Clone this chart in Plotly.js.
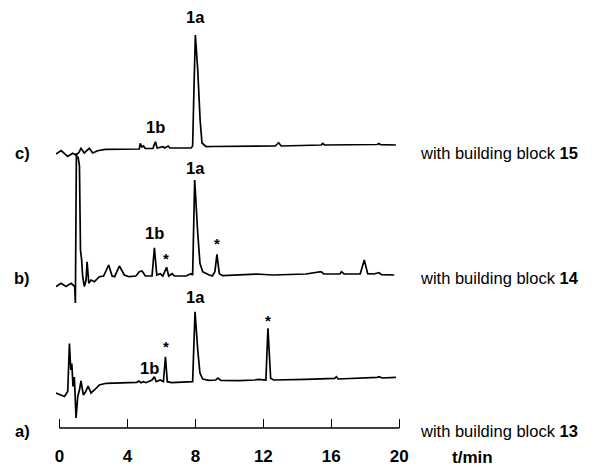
<!DOCTYPE html>
<html>
<head>
<meta charset="utf-8">
<script src="https://cdn.plot.ly/plotly-3.0.1.min.js"></script>
<style>html,body{margin:0;padding:0;background:#fff}#chart{width:597px;height:467px}</style>
</head>
<body>
<div id="chart"></div>
<script>
// ---- data (time in min, detector signal relative to each baseline, arbitrary units) ----
var timeA = [-0.2,0.1,0.3,0.49,0.59,0.67,0.73,0.8,0.88,0.98,1.08,1.18,1.27,1.41,1.55,1.69,1.86,2.06,2.35,2.75,3.5,4.55,4.68,4.8,4.95,5.1,5.45,5.59,5.7,5.93,6.12,6.24,6.35,6.6,7.84,7.98,8.14,8.27,8.43,8.8,9.2,9.33,9.5,10.6,11.5,11.7,12.15,12.27,12.43,12.6,14.5,16.2,16.3,16.4,18.7,18.8,19.0,19.8];
var signalA = [-10,-12,-13.5,-8.5,39.5,13,19.5,-3.5,6,-35,-13.5,-7,2,-12,-8.5,-3,-10,-7,-2,-0.3,0.3,0.7,2,0.3,1.3,0.3,3,6.3,1.3,3,1.3,26.3,1.3,0.3,1.3,71.3,33,10,4,2.7,3,5,2.7,2.3,3,3.7,3,54.7,4.7,3,3.7,4.7,6.3,4,5.7,6.3,5,5.7];

var timeB = [-0.2,0.1,0.39,0.69,0.9,0.94,1.0,1.04,1.1,1.18,1.24,1.31,1.37,1.47,1.57,1.63,1.73,1.86,2.06,2.35,2.6,2.9,3.1,3.25,3.53,3.82,4.1,4.5,4.7,4.86,5.06,5.45,5.59,5.73,5.93,6.08,6.31,6.43,6.63,6.76,7.45,7.74,7.84,7.96,8.14,8.27,8.43,8.63,8.82,9.0,9.15,9.27,9.41,9.6,10.6,11.6,12.55,14.5,15.4,15.55,16.5,16.6,16.75,17.7,17.94,18.14,18.5,18.8,18.95,19.7];
var signalB = [-10.5,-7.3,-10.5,-7.3,-10.5,-27,123,118,119,110,26,16,-0.7,-10.5,-4,14.3,-7.3,-4,-5.7,-0.7,0,11,0,-0.7,10,1,-0.7,0,4.3,5,0,0,28.3,1,2.3,0,8.7,0,2.3,0,0,2.3,1,96,42.7,12.7,4.3,2.3,1,0,4.3,21.7,2.3,0.3,1,2,1,2,4.3,2,2,4.3,2,2,16,2.3,2,3.3,1.3,1];

var timeC = [-0.2,0.1,0.49,0.78,0.97,1.14,1.27,1.46,1.76,1.96,2.25,2.7,4.7,4.76,4.85,4.95,5.05,5.5,5.65,5.75,6.1,6.2,6.4,6.5,7.75,7.84,7.92,8.0,8.14,8.28,8.39,8.63,9.0,10.0,12.7,12.9,13.05,15.4,15.5,15.6,17.5,18.7,18.8,18.9,19.8];
var signalC = [-5,-1.5,-7.5,-4.3,-6,-3.7,0.7,-4,0.7,-4,-1.7,-0.3,0,5.7,2,3,0.5,0.5,7.3,1,2.3,1,3,1,1,3,62,114,79,29,6,2.3,2.5,2.7,3,6.3,3,4,5.5,4,4,4.5,5.5,4.3,4];

var tickValues = [0,4,8,12,16,20];
var tickLabels = ['0','4','8','12','16','20'];
var traceLetters = ['a)','b)','c)'];
var blockNumbers = ['13','14','15'];
var peakNames = ['1a','1b','*','*','1a','1b','*','*','1a','1b'];

// ---- layout helpers (pixel geometry of the figure) ----
var W = 597, H = 467;
var mL = 56, mR = 196, mT = 0, mB = 39;
var plotH = H - mT - mB;           // y axis runs in "pixel" units 0..plotH
var xr = [-0.2, 20.1];
function yv(py){ return plotH - (py - mT); }           // figure px -> y value
function xp(px){ return (px - mL) / (W - mL - mR); }   // figure px -> paper x
function yp(py){ return (H - mB - py) / plotH; }       // figure px -> paper y

var baselines = [yv(383), yv(276), yv(149)];  // vertical stacking offsets a, b, c
var times = [timeA, timeB, timeC];
var signals = [signalA, signalB, signalC];

var data = [];
for (var i = 0; i < 3; i++) {
  var off = baselines[i];
  data.push({
    x: times[i],
    y: signals[i].map(function(v){ return v + off; }),
    type: 'scatter', mode: 'lines',
    line: {color: '#000', width: 1.7, shape: 'linear'},
    hoverinfo: 'skip', showlegend: false
  });
}

var FAM = 'Arial, "Liberation Sans", sans-serif';
var bold = {family: FAM, size: 16.5, color: '#000', weight: 'bold'};
var reg = {family: FAM, size: 16.5, color: '#000'};

var ann = [];
// peak labels: [name index, time, figure px y]
var peakPos = [
  [0, 8.0, 17], [1, 5.65, 127],
  [2, 6.3, 258], [3, 9.3, 243], [4, 8.0, 168], [5, 5.6, 233],
  [6, 6.25, 346], [7, 12.3, 320], [8, 8.0, 297], [9, 5.3, 368]
];
peakPos.forEach(function(p){
  var name = peakNames[p[0]];
  ann.push({
    x: p[1], y: yv(p[2]), xref: 'x', yref: 'y', showarrow: false,
    text: name, xanchor: 'center', yanchor: 'middle',
    font: name === '*' ? Object.assign({}, bold, {size: 15}) : bold
  });
});
var rowY = [431, 278, 153];
for (var k = 0; k < 3; k++) {
  ann.push({x: xp(22), y: yp(rowY[k]), xref: 'paper', yref: 'paper', showarrow: false,
            text: traceLetters[k], xanchor: 'center', yanchor: 'middle', font: bold});
  ann.push({x: xp(418), y: yp(rowY[k]), xref: 'paper', yref: 'paper', showarrow: false,
            text: 'with building block <b>' + blockNumbers[k] + '</b>', xanchor: 'left', yanchor: 'middle', font: reg});
}
ann.push({x: xp(472), y: yp(457), xref: 'paper', yref: 'paper', showarrow: false,
          text: 't/min', xanchor: 'center', yanchor: 'middle', font: Object.assign({}, bold, {size: 17})});

var layout = {
  width: W, height: H,
  margin: {l: mL, r: mR, t: mT, b: mB, pad: 0},
  paper_bgcolor: '#fff', plot_bgcolor: '#fff',
  showlegend: false,
  xaxis: {
    range: xr, showgrid: false, zeroline: false, showline: false,
    tickmode: 'array', tickvals: tickValues, ticktext: tickLabels,
    ticks: 'inside', ticklen: 9, tickwidth: 1.5, tickcolor: '#000',
    ticklabelstandoff: 16,
    tickfont: Object.assign({}, bold, {size: 17}), fixedrange: true
  },
  yaxis: {
    range: [0, plotH], visible: false, fixedrange: true
  },
  shapes: [{
    type: 'line', xref: 'x', yref: 'paper', x0: 0, x1: 20, y0: 0, y1: 0,
    line: {color: '#000', width: 1.5}
  }],
  annotations: ann
};

Plotly.newPlot('chart', data, layout, {staticPlot: true, displayModeBar: false});
</script>
</body>
</html>
